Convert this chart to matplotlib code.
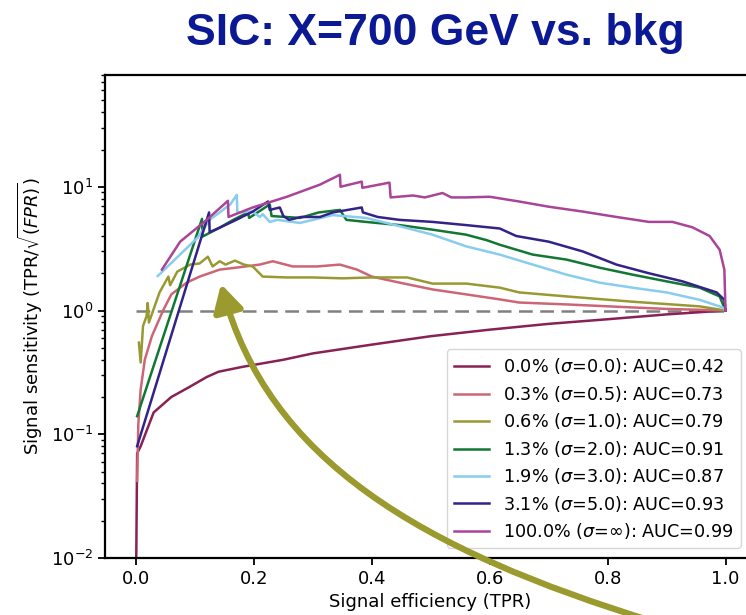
import matplotlib
matplotlib.use("Agg")
import matplotlib.pyplot as plt
from matplotlib.patches import FancyArrowPatch
from matplotlib.path import Path

# SIC curves (x = TPR, y = TPR/sqrt(FPR))
x_wine = [0.0, 0.002, 0.008, 0.03, 0.06, 0.09, 0.12, 0.14, 0.18, 0.25, 0.30, 0.40, 0.50, 0.60, 0.70, 0.80, 0.90, 1.0]
y_wine = [0.005, 0.07, 0.08, 0.15, 0.20, 0.24, 0.29, 0.32, 0.35, 0.40, 0.45, 0.53, 0.62, 0.70, 0.78, 0.85, 0.93, 1.0]

x_rose = [0.002, 0.004, 0.008, 0.015, 0.027, 0.046, 0.06, 0.086, 0.108, 0.142, 0.17, 0.21, 0.232, 0.266,
          0.307, 0.346, 0.375, 0.40, 0.447, 0.503, 0.56, 0.617, 0.65, 0.73, 0.84, 0.90, 1.0]
y_rose = [0.042, 0.12, 0.23, 0.40, 0.62, 1.0, 1.35, 1.68, 1.88, 2.14, 2.22, 2.35, 2.5, 2.27,
          2.27, 2.35, 2.14, 1.88, 1.68, 1.48, 1.35, 1.23, 1.16, 1.12, 1.06, 1.03, 1.0]

x_olive = [0.005, 0.008, 0.012, 0.018, 0.020, 0.022, 0.04, 0.055, 0.058, 0.07, 0.092, 0.108, 0.122, 0.13,
           0.142, 0.152, 0.168, 0.183, 0.198, 0.215, 0.256, 0.30, 0.35, 0.40, 0.46, 0.503, 0.56, 0.617,
           0.65, 0.73, 0.84, 0.956, 1.0]
y_olive = [0.55, 0.38, 0.75, 0.90, 1.15, 0.80, 1.4, 1.88, 1.6, 2.06, 2.35, 2.4, 2.72, 2.27,
           2.5, 2.35, 2.53, 2.35, 2.27, 1.88, 1.85, 1.85, 1.82, 1.85, 1.85, 1.65, 1.65, 1.53,
           1.4, 1.3, 1.18, 1.08, 1.0]

x_green = [0.002, 0.112, 0.113, 0.142, 0.165, 0.19, 0.192, 0.227, 0.23, 0.278, 0.31, 0.346, 0.357, 0.39,
           0.447, 0.503, 0.56, 0.595, 0.617, 0.673, 0.73, 0.786, 0.842, 0.90, 0.956, 0.99, 1.0]
y_green = [0.14, 5.5, 3.96, 4.67, 5.4, 6.2, 5.6, 7.2, 5.8, 5.6, 6.2, 6.5, 5.4, 5.2,
           4.9, 4.5, 4.1, 3.7, 3.4, 2.83, 2.58, 2.22, 1.95, 1.72, 1.53, 1.3, 1.0]

x_cyan = [0.037, 0.105, 0.125, 0.16, 0.171, 0.172, 0.198, 0.21, 0.215, 0.227, 0.24, 0.278, 0.334, 0.39,
          0.447, 0.503, 0.56, 0.617, 0.673, 0.73, 0.786, 0.842, 0.90, 0.956, 0.995, 1.0]
y_cyan = [1.9, 3.9, 5.4, 7.2, 8.6, 6.2, 6.3, 5.7, 6.0, 5.2, 5.4, 5.1, 5.9, 5.6,
          4.8, 4.1, 3.3, 2.83, 2.35, 1.95, 1.68, 1.53, 1.4, 1.22, 1.06, 1.0]

x_indigo = [0.002, 0.124, 0.125, 0.142, 0.17, 0.198, 0.224, 0.227, 0.244, 0.25, 0.26, 0.28, 0.312, 0.334,
            0.383, 0.385, 0.41, 0.447, 0.503, 0.56, 0.617, 0.645, 0.70, 0.758, 0.815, 0.87, 0.927, 0.985,
            0.998, 1.0]
y_indigo = [0.08, 6.2, 4.3, 4.67, 5.4, 6.3, 7.6, 6.5, 6.8, 5.8, 5.4, 5.7, 5.7, 6.2,
            6.8, 6.2, 5.7, 5.4, 5.2, 4.9, 4.6, 4.0, 3.6, 3.0, 2.35, 2.0, 1.72, 1.4,
            1.22, 1.0]

x_purple = [0.044, 0.075, 0.12, 0.156, 0.157, 0.198, 0.256, 0.312, 0.346, 0.347, 0.383, 0.384, 0.43, 0.432,
            0.47, 0.49, 0.52, 0.535, 0.56, 0.60, 0.65, 0.70, 0.758, 0.815, 0.87, 0.91, 0.944, 0.973,
            0.99, 0.998, 1.0]
y_purple = [2.14, 3.6, 5.4, 7.7, 5.7, 6.8, 8.3, 10.4, 12.5, 10.0, 11.0, 9.8, 10.8, 8.2,
            8.5, 8.2, 8.9, 8.2, 8.2, 8.3, 7.6, 6.9, 6.3, 5.7, 5.2, 5.2, 4.7, 4.0,
            3.1, 2.14, 1.0]

labels = [
    r"0.0% ($\sigma$=0.0): AUC=0.42",
    r"0.3% ($\sigma$=0.5): AUC=0.73",
    r"0.6% ($\sigma$=1.0): AUC=0.79",
    r"1.3% ($\sigma$=2.0): AUC=0.91",
    r"1.9% ($\sigma$=3.0): AUC=0.87",
    r"3.1% ($\sigma$=5.0): AUC=0.93",
    r"100.0% ($\sigma$=$\infty$): AUC=0.99",
]
colors = ["#882255", "#CC6677", "#999933", "#117733", "#88CCEE", "#332288", "#AA4499"]
curves = [(x_wine, y_wine), (x_rose, y_rose), (x_olive, y_olive), (x_green, y_green),
          (x_cyan, y_cyan), (x_indigo, y_indigo), (x_purple, y_purple)]

W, H = 746, 615
fig = plt.figure(figsize=(W / 100, H / 100), dpi=100)
# axes run past the right edge of the slide crop
ax = fig.add_axes([105 / W, 1 - 558 / H, 650 / W, (558 - 75) / H])

ax.plot([0, 1], [1, 1], color="gray", linestyle="--", linewidth=1.8, dashes=(5.5, 3))
for (xs, ys), c, lab in zip(curves, colors, labels):
    ax.plot(xs, ys, color=c, linewidth=1.8, label=lab)

ax.set_yscale("log")
ax.set_xlim(-0.0525, 1.05)
ax.set_ylim(0.01, 80)
ax.set_xticks([0.0, 0.2, 0.4, 0.6, 0.8, 1.0])
ax.tick_params(labelsize=13, width=1.3, length=5)
ax.tick_params(which="minor", width=1.0, length=3)
for s in ax.spines.values():
    s.set_linewidth(1.6)
ax.spines["right"].set_visible(False)
ax.set_xlabel("Signal efficiency (TPR)", fontsize=13)
ax.set_ylabel(r"Signal sensitivity (TPR/$\sqrt{(FPR)}$)", fontsize=13)

ax.legend(loc="lower right", bbox_to_anchor=(741 / W, 1 - 548 / H), bbox_transform=fig.transFigure,
          borderaxespad=0, fontsize=12.7, labelspacing=0.42)

fig.text(435 / W, 1 - 34 / H, "SIC: X=700 GeV vs. bkg", ha="center", va="center",
         fontsize=32, fontweight="bold", family="Liberation Sans", color="#0b1a94")

# slide annotation arrow
def fp(x, y):
    return (x / W, 1 - y / H)

verts = [fp(655, 622), fp(420, 550), fp(268, 460), fp(221, 284)]
arrow = FancyArrowPatch(path=Path(verts, [Path.MOVETO, Path.CURVE4, Path.CURVE4, Path.CURVE4]),
                        transform=fig.transFigure, arrowstyle="-|>,head_length=0.45,head_width=0.25",
                        mutation_scale=36, linewidth=4.5, color="#9a9a2e", zorder=10)
fig.patches.append(arrow)

fig.savefig("out.png", dpi=100)
